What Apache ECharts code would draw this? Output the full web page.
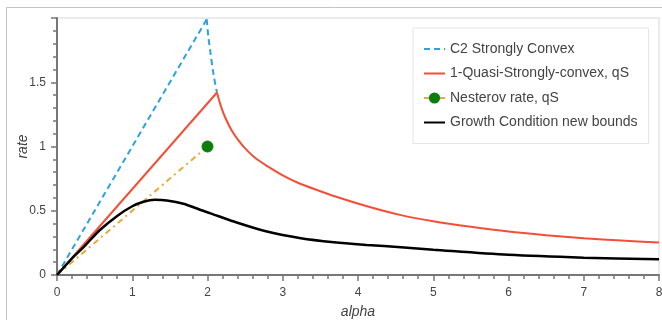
<!DOCTYPE html>
<html>
<head>
<meta charset="utf-8">
<script src="https://cdn.jsdelivr.net/npm/echarts@6/dist/echarts.min.js"></script>
<style>
  html, body { margin: 0; padding: 0; background: #fff; }
  #chart { width: 662px; height: 320px; }
</style>
</head>
<body>
<div id="chart"></div>
<script>
// C2 strongly convex (dashed blue): straight rise, then a steep drop
var c2RiseAlpha = [0, 1.99];
var c2RiseRate = [0, 1.99];
var c2DropAlpha = [1.99, 2.01, 2.037, 2.08, 2.126];
var c2DropRate = [1.99, 1.86, 1.74, 1.56, 1.42];

// 1-quasi-strongly-convex (red): straight rise, then decay
var qsRiseAlpha = [0, 2.126];
var qsRiseRate = [0, 1.42];
var qsDecayAlpha = [2.126, 2.18, 2.237, 2.326, 2.414, 2.5, 2.636, 2.8, 3.0, 3.2, 3.5, 3.68, 4.12, 4.57, 5.0, 5.5, 6.0, 6.5, 7.0, 7.5, 8.0];
var qsDecayRate = [1.42, 1.31, 1.224, 1.12, 1.045, 0.985, 0.91, 0.845, 0.775, 0.718, 0.652, 0.615, 0.535, 0.466, 0.418, 0.375, 0.338, 0.31, 0.286, 0.268, 0.252];

// Nesterov rate (orange dash-dot, green marker at the end)
var nesAlpha = [0, 2];
var nesRate = [0, 1];

// growth condition new bounds (black)
var gcAlpha = [0, 0.1, 0.2, 0.35, 0.57, 0.8, 1.0, 1.15, 1.3, 1.46, 1.68, 1.9, 2.04, 2.35, 2.79, 3.24, 3.68, 4.12, 4.57, 5.0, 6.0, 7.0, 8.0];
var gcRate = [0, 0.065, 0.13, 0.215, 0.35, 0.46, 0.535, 0.57, 0.585, 0.58, 0.555, 0.508, 0.48, 0.416, 0.338, 0.286, 0.255, 0.234, 0.216, 0.197, 0.157, 0.135, 0.122];

var legendNames = ['C2 Strongly Convex', '1-Quasi-Strongly-convex, qS', 'Nesterov rate, qS', 'Growth Condition new bounds'];

var blue = '#2aa3e0';
var red = '#f44e36';
var orange = '#e8a93a';
var green = '#0b7d0b';
var textColor = '#444';
var axisColor = '#777';

function pairs(xs, ys) {
  return xs.map(function (x, i) { return [x, ys[i]]; });
}

var nesData = pairs(nesAlpha, nesRate).map(function (p, i) {
  return i === nesAlpha.length - 1 ? {value: p} : {value: p, symbol: 'none'};
});

// only the Nesterov entry keeps its marker in the legend
var legendData = legendNames.map(function (n, i) {
  return i === 2 ? {name: n} : {name: n, itemStyle: {opacity: 0}};
});

function plainLine(name, data, color, width, dash, smooth) {
  return {
    name: name,
    type: 'line',
    symbol: 'none',
    smooth: smooth || false,
    data: data,
    itemStyle: {color: color},
    lineStyle: {color: color, width: width, type: dash || 'solid'}
  };
}

var myChart = echarts.init(document.getElementById('chart'));
var option = {
  animation: false,
  textStyle: {fontFamily: 'Liberation Sans, Arial, sans-serif'},
  graphic: [{
    type: 'rect',
    silent: true,
    shape: {x: 6.5, y: 7.5, width: 700, height: 400},
    style: {fill: 'none', stroke: '#c4c4c4', lineWidth: 1}
  }],
  grid: {
    left: 57,
    right: 3,
    top: 18,
    bottom: 45,
    outerBoundsMode: 'none',
    containLabel: false,
    show: true,
    borderColor: '#ebebeb',
    borderWidth: 2
  },
  legend: {
    orient: 'vertical',
    left: 413,
    top: 28,
    padding: [14, 11, 14, 10],
    itemWidth: 21,
    itemHeight: 14,
    itemGap: 10.5,
    backgroundColor: '#fff',
    borderColor: '#e5e5e5',
    borderWidth: 1,
    textStyle: {fontSize: 14, color: textColor},
    data: legendData
  },
  xAxis: {
    type: 'value',
    min: 0,
    max: 8,
    interval: 1,
    name: 'alpha',
    nameLocation: 'middle',
    nameGap: 30,
    nameMoveOverlap: false,
    nameTextStyle: {fontSize: 14, fontStyle: 'italic', color: textColor},
    splitLine: {show: false},
    axisLine: {lineStyle: {color: axisColor, width: 2}},
    axisTick: {length: 6, lineStyle: {color: axisColor, width: 1.5}},
    minorTick: {show: true, splitNumber: 5, length: 4, lineStyle: {color: axisColor, width: 1.5}},
    axisLabel: {fontSize: 12, color: textColor, margin: 12}
  },
  yAxis: {
    type: 'value',
    min: 0,
    max: 2,
    interval: 0.5,
    name: 'rate',
    nameLocation: 'middle',
    nameGap: 27,
    nameRotate: 90,
    nameMoveOverlap: false,
    nameTextStyle: {fontSize: 14, fontStyle: 'italic', color: textColor},
    splitLine: {show: false},
    axisLine: {show: true, lineStyle: {color: axisColor, width: 2}},
    axisTick: {show: true, length: 6, lineStyle: {color: axisColor, width: 1.5}},
    minorTick: {show: true, splitNumber: 5, length: 4, lineStyle: {color: axisColor, width: 1.5}},
    axisLabel: {
      fontSize: 12,
      color: textColor,
      margin: 11,
      formatter: function (v) { return v >= 2 ? '' : String(v); }
    }
  },
  series: [
    plainLine(legendNames[0], pairs(c2RiseAlpha, c2RiseRate), blue, 2, [6, 4]),
    plainLine(legendNames[0], pairs(c2DropAlpha, c2DropRate), blue, 2, [6, 4], 0.3),
    plainLine(legendNames[1], pairs(qsRiseAlpha, qsRiseRate), red, 2),
    plainLine(legendNames[1], pairs(qsDecayAlpha, qsDecayRate), red, 2, null, 0.3),
    {
      name: legendNames[2],
      type: 'line',
      symbol: 'circle',
      symbolSize: 11,
      data: nesData,
      itemStyle: {color: green, borderColor: green},
      lineStyle: {color: orange, width: 2, type: [6, 4, 2, 4]}
    },
    plainLine(legendNames[3], pairs(gcAlpha, gcRate), '#000', 2.5, null, 0.3)
  ]
};
myChart.setOption(option);
</script>
</body>
</html>
